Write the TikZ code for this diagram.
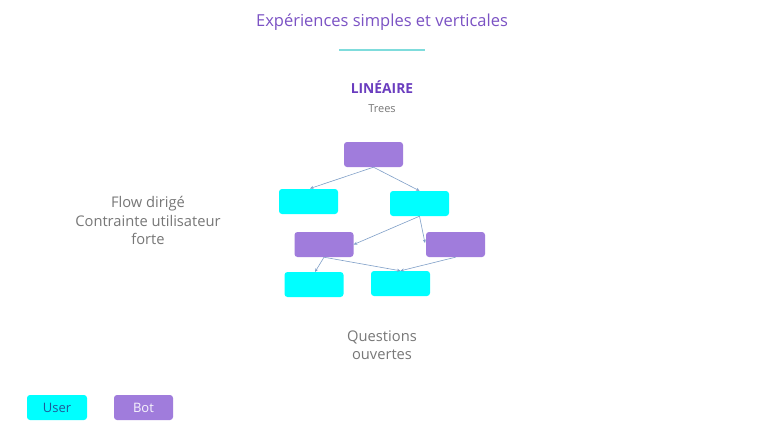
\documentclass[tikz,border=0pt]{standalone}
\usepackage{fontspec}
\setmainfont{Open Sans}
\usetikzlibrary{arrows.meta}
\definecolor{cyanbox}{HTML}{00FFFF}
\definecolor{purplebox}{HTML}{A07CDC}
\definecolor{titlepurple}{HTML}{7B52C4}
\definecolor{boldpurple}{HTML}{6A3DBF}
\definecolor{graytext}{HTML}{777777}
\definecolor{arrowblue}{HTML}{7F9FC8}
\definecolor{rulecyan}{HTML}{7FDCDC}
\definecolor{userblue}{HTML}{1D5A9A}
\begin{document}
\begin{tikzpicture}[x=1pt,y=-1pt,
  userbox/.style={fill=cyanbox,draw=none,rounded corners=3pt,minimum width=59pt,minimum height=25pt,inner sep=0pt},
  botbox/.style={fill=purplebox,draw=none,rounded corners=3pt,minimum width=59pt,minimum height=25pt,inner sep=0pt},
  conn/.style={draw=arrowblue,line width=0.6pt,-{Stealth[length=3.5pt,width=3pt]}},
  graylbl/.style={text=graytext,font=\fontsize{14.7}{18.5}\selectfont,align=center}]
\useasboundingbox (0,0) rectangle (768,424);
\fill[white] (0,0) rectangle (768,424);
% title
\node[text=titlepurple,font=\fontsize{16.5}{19}\selectfont] (title) at (382,22.5) {Expériences simples et verticales};
\draw[rulecyan,line width=2pt] (339,50) -- (425,50);
\node[text=boldpurple,font=\fontsize{13.8}{16}\selectfont\bfseries] (lin) at (382,87) {LINÉAIRE};
\node[text=graytext,font=\fontsize{11}{13}\selectfont] (trees) at (382,109) {Trees};
% tree
\node[botbox] (r) at (373.5,154.5) {};
\node[userbox] (a) at (308.5,201.5) {};
\node[userbox] (b) at (419.5,203.5) {};
\node[botbox] (c) at (324,244.5) {};
\node[botbox] (d) at (455.5,244.5) {};
\node[userbox] (e) at (314,284.5) {};
\node[userbox] (f) at (400.5,283.5) {};
\draw[conn] (r.south) -- (310,188.5);
\draw[conn] (r.south) -- (b.north);
\draw[conn] (b.south) -- (c.east);
\draw[conn] (b.south) -- (425,243);
\draw[conn] (c.south) -- (315,272);
\draw[conn] (c.south) -- (f.north);
\draw[conn] (d.south) -- (f.north);
% side texts
\node[graylbl] (flow) at (148,220.5) {Flow dirigé\\Contrainte utilisateur\\forte};
\node[graylbl] (q) at (382,345) {Questions\\ouvertes};
% legend
\node[userbox,minimum width=60pt,text=userblue,font=\fontsize{13}{15}\selectfont] (user) at (57,407.5) {User};
\node[botbox,text=white!92!purplebox,font=\fontsize{13}{15}\selectfont] (bot) at (143.5,407.5) {Bot};
\end{tikzpicture}
\end{document}
